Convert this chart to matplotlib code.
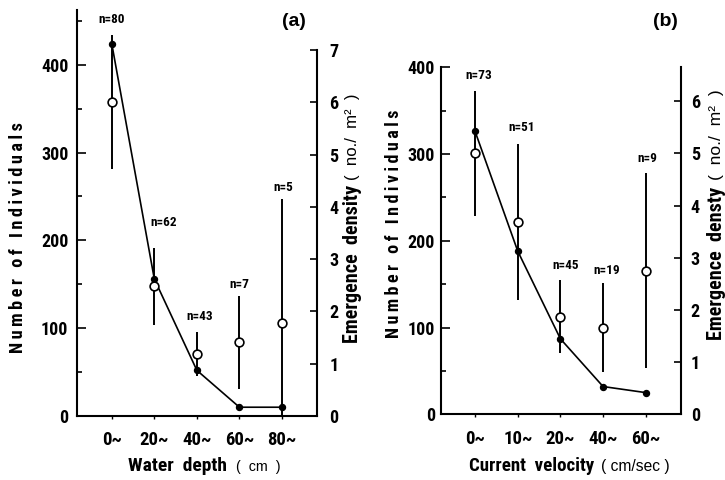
import matplotlib
matplotlib.use('Agg')
import matplotlib.pyplot as plt

# ---------------- data ----------------
depth_labels = ['0~', '20~', '40~', '60~', '80~']
depth_individuals = [424, 156, 52, 10, 10]
depth_density = [6.0, 2.48, 1.19, 1.41, 1.78]
depth_density_err = [1.28, 0.74, 0.42, 0.89, 2.37]
depth_n = [80, 62, 43, 7, 5]

velocity_labels = ['0~', '10~', '20~', '40~', '60~']
velocity_individuals = [326, 188, 87, 32, 25]
velocity_density = [5.0, 3.69, 1.87, 1.66, 2.75]
velocity_density_err = [1.2, 1.49, 0.7, 0.85, 1.87]
velocity_n = [73, 51, 45, 19, 9]

left_ticks_a = [0, 100, 200, 300, 400]
left_minor_a = [50, 150, 250, 350, 450]
right_ticks_a = [0, 1, 2, 3, 4, 5, 6, 7]
left_ticks_b = [0, 100, 200, 300, 400]
left_minor_b = [50, 150, 250, 350]
right_ticks_b = [0, 1, 2, 3, 4, 5, 6]

# ---------------- style ----------------
W, H = 725, 480
NARROW = ['Roboto Condensed', 'Archivo Narrow', 'DejaVu Sans']
REG = ['Liberation Sans', 'DejaVu Sans']
plt.rcParams['font.family'] = NARROW
plt.rcParams['font.weight'] = 'bold'

fig = plt.figure(figsize=(W / 100, H / 100), dpi=100)
fig.patch.set_facecolor('white')


def fx(x):
    return x / W


def fy(y):
    return 1 - y / H


def spaced(s):
    # letter-spaced look of the original typesetting
    return '\u2009'.join(s)


def draw_panel(left, right, bottom, top, xlim, ylim_l, ylim_r, spine_top_l, spine_top_r,
               cats, indiv, dens, err, ns, lt, lminor, rt, lpad, rpad, xpad, n_offsets):
    ax = fig.add_axes([fx(left), fy(bottom), (right - left) / W, (bottom - top) / H])
    ax2 = ax.twinx()
    xs = list(range(len(cats)))
    ax.plot(xs, indiv, color='black', lw=1.2, marker='o', ms=4.3,
            mfc='black', mec='black', zorder=3, clip_on=False)
    ax2.errorbar(xs, dens, yerr=err, fmt='o', ms=6.3, mfc='white', mec='black',
                 mew=1.2, ecolor='black', elinewidth=1.4, capsize=0, zorder=3)
    for x, d, e, n, (dx, dy) in zip(xs, dens, err, ns, n_offsets):
        ax2.annotate(f'n={n}', xy=(x, d + e), xytext=(dx * 0.72, dy * 0.72),
                     textcoords='offset points', ha='center', va='center',
                     fontsize=9.5, fontweight='bold', family=NARROW)

    ax.set_xlim(*xlim)
    ax.set_ylim(*ylim_l)
    ax2.set_ylim(*ylim_r)

    for a in (ax, ax2):
        a.spines['top'].set_visible(False)
        for s in a.spines.values():
            s.set_linewidth(1.5)
    ax.spines['right'].set_visible(False)
    ax2.spines['left'].set_visible(False)
    ax2.spines['bottom'].set_visible(False)
    ax.spines['left'].set_bounds(0, spine_top_l)
    ax2.spines['right'].set_bounds(0, spine_top_r)

    ax.set_xticks(xs)
    ax.set_xticklabels(cats, fontsize=13.5)
    ax.tick_params(axis='x', direction='out', length=2.5, width=1.0, pad=xpad)

    ax.set_yticks(lt)
    ax.set_yticklabels([str(v) for v in lt], fontsize=13)
    ax.set_yticks(lminor, minor=True)
    ax.tick_params(axis='y', which='major', direction='in', length=6.5, width=1.2, pad=lpad)
    ax.tick_params(axis='y', which='minor', direction='in', length=3.6, width=1.2)

    ax2.set_yticks(rt)
    ax2.set_yticklabels([str(v) for v in rt], fontsize=13)
    ax2.tick_params(axis='y', which='major', direction='in', length=5, width=1.2, pad=rpad)
    return ax, ax2


draw_panel(77.3, 317.3, 416, 10, (-0.81, 4.83), (0, 462.4), (0, 7.763), 462.4, 7,
           depth_labels, depth_individuals, depth_density, depth_density_err, depth_n,
           left_ticks_a, left_minor_a, right_ticks_a, 6.5, 8.6, 8.0,
           [(0, 16), (9, 25), (3, 15), (0, 11), (1, 11)])

draw_panel(441, 680.7, 414.3, 67.3, (-0.80, 4.82), (0, 400), (0, 6.65), 400, 6.65,
           velocity_labels, velocity_individuals, velocity_density, velocity_density_err, velocity_n,
           left_ticks_b, left_minor_b, right_ticks_b, 4.3, 7.2, 8.5,
           [(4, 15), (4, 17), (5, 15), (4, 13), (2, 15)])

fig.text(fx(294), fy(21), '(a)', ha='center', va='center', fontsize=14,
         fontweight='bold', family=REG)
fig.text(fx(665), fy(22), '(b)', ha='center', va='center', fontsize=14,
         fontweight='bold', family=REG)

# ---- axis titles, fitted to the box they occupy in the reference (px from top-left) ----
fig.canvas.draw()
_renderer = fig.canvas.get_renderer()


def fitted(text, box, vertical, size, family, weight):
    x0, x1, y0, y1 = box
    t = fig.text(0.5, 0.5, text, rotation=90 if vertical else 0, ha='center', va='center',
                 fontsize=size, family=family, fontweight=weight)
    target = abs(y1 - y0) if vertical else abs(x1 - x0)
    for _ in range(3):
        bb = t.get_window_extent(_renderer)
        cur = bb.height if vertical else bb.width
        t.set_fontsize(t.get_fontsize() * target / cur)
    bb = t.get_window_extent(_renderer)
    cx, cy = (bb.x0 + bb.x1) / 2, (bb.y0 + bb.y1) / 2
    tx, ty = (x0 + x1) / 2, H - (y0 + y1) / 2
    t.set_position((0.5 + (tx - cx) / W, 0.5 + (ty - cy) / H))
    return t


# left y titles
fitted(spaced('Number of Individuals'), (18, 18, 123, 353), True, 14, NARROW, 'bold')
fitted(spaced('Number of Individuals'), (394, 394, 110, 338), True, 14, NARROW, 'bold')
# right y titles
fitted('Emergence  density', (352, 352, 185, 343), True, 14, NARROW, 'bold')
fitted('(  no./  m²  )', (352, 352, 93, 180), True, 10, REG, 'normal')
fitted('Emergence  densty', (716, 716, 187, 340), True, 14, NARROW, 'bold')
fitted('(  no./  m²  )', (716, 716, 90, 180), True, 10, REG, 'normal')
# x titles
fitted('Water  depth', (128, 227, 466, 466), False, 13.5, NARROW, 'bold')
fitted('(  cm  )', (236, 280, 467, 467), False, 10, REG, 'normal')
fitted('Current  velocity', (469, 594, 466, 466), False, 13.5, NARROW, 'bold')
fitted('( cm/sec )', (601, 670, 467, 467), False, 10, REG, 'normal')

fig.savefig('out.png', dpi=100, facecolor='white')
